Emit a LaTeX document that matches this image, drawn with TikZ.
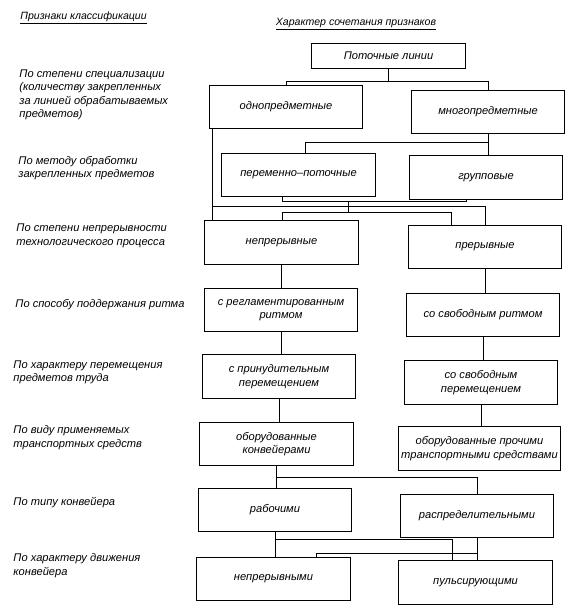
\documentclass[tikz,border=0pt]{standalone}
\usepackage{fontspec}
\setmainfont{Liberation Sans}
\usetikzlibrary{calc,positioning}

\begin{document}
\begin{tikzpicture}[
    x=0.03cm, y=-0.03cm,
    line width=0.8pt,
    block/.style={draw, rectangle, minimum width=4.6cm, minimum height=1.3cm, align=center, inner sep=2pt, font=\itshape\fontsize{9.5}{11.5}\selectfont},
    crit/.style={anchor=west, align=left, inner sep=0pt, font=\itshape\fontsize{9.5}{11.5}\selectfont},
    head/.style={inner sep=0pt, font=\itshape\fontsize{9}{11}\selectfont}
]
    \useasboundingbox (0,0) rectangle (574,612);

    % headers
    \node[head, anchor=west] (hLeft) at (20,18) {\underline{Признаки классификации}};
    \node[head] (hRight) at (356,24) {\underline{Характер сочетания признаков}};

    % classification criteria
    \node[crit] (c1) at (19,95) {По степени специализации\\(количеству закрепленных\\за линией обрабатываемых\\предметов)};
    \node[crit] (c2) at (18,168) {По методу обработки\\закрепленных предметов};
    \node[crit] (c3) at (16,236) {По степени непрерывности\\технологического процесса};
    \node[crit] (c4) at (15,305) {По способу поддержания ритма};
    \node[crit] (c5) at (13,372.5) {По характеру перемещения\\предметов труда};
    \node[crit] (c6) at (13,437.5) {По виду применяемых\\транспортных средств};
    \node[crit] (c7) at (13,503) {По типу конвейера};
    \node[crit] (c8) at (13,565.5) {По характеру движения\\конвейера};

    % line types
    \node[block, minimum height=0.75cm] (flow) at (388.5,55.5) {Поточные линии};
    \node[block] (single) at (286,107) {однопредметные};
    \node[block] (multi) at (488,112) {многопредметные};
    \node[block] (variable) at (298.5,175) {переменно--поточные};
    \node[block] (group) at (486,177.5) {групповые};
    \node[block] (cont) at (281.5,242.5) {непрерывные};
    \node[block] (discont) at (485,247) {прерывные};
    \node[block] (regular) at (281,310) {с регламентированным\\ритмом};
    \node[block] (freeR) at (483,315) {со свободным ритмом};
    \node[block] (forced) at (279,376.5) {с принудительным\\перемещением};
    \node[block] (freeM) at (481,382.5) {со свободным\\перемещением};
    \node[block] (convey) at (276.5,444) {оборудованные\\конвейерами};
    \node[block] (other) at (479.5,448.5) {оборудованные прочими\\транспортными средствами};
    \node[block] (work) at (275,510) {рабочими};
    \node[block] (distr) at (477,516) {распределительными};
    \node[block] (contM) at (273.5,579) {непрерывными};
    \node[block] (pulse) at (475.5,582.5) {пульсирующими};

    \coordinate (bus1) at (0,81);
    \draw (flow.south) -- (flow.south |- bus1);
    \draw (single.north) |- (multi.north |- bus1) -- (multi.north);

    \coordinate (bus2) at (0,142);
    \draw (multi.south) -- (multi.south |- group.north);
    \draw ([xshift=0.2cm]variable.north) |- (multi.south |- bus2);

    % single-item lines
    \coordinate (s1) at ([xshift=0.12cm]single.south west);
    \coordinate (bus3) at (0,206);
    \draw (s1) -- (s1 |- cont.north);
    \draw (s1 |- bus3) -| (discont.north);

    % variable and group lines
    \coordinate (v1) at ([xshift=-0.47cm]variable.south);
    \coordinate (g1) at ([xshift=-0.6cm]group.south);
    \coordinate (bus4) at (0,201);
    \coordinate (bus5) at (0,212);
    \coordinate (drop) at (348,0);
    \draw (v1) |- (g1 |- bus4) -- (g1);
    \draw (drop |- bus4) -- (drop |- bus5);
    \draw (v1 |- cont.north) |- ([xshift=-1cm]discont.north |- bus5) -- ([xshift=-1cm]discont.north);

    \draw (cont.south) -- (cont.south |- regular.north);
    \draw (discont.south) -- (discont.south |- freeR.north);
    \draw (regular.south) -- (regular.south |- forced.north);
    \draw (freeR.south) -- (freeR.south |- freeM.north);
    \draw (forced.south) -- (forced.south |- convey.north);
    \draw (freeM.south) -- (freeM.south |- other.north);

    \coordinate (bus6) at (0,477);
    \draw (convey.south) -- (convey.south |- work.north);
    \draw (convey.south |- bus6) -| (distr.north);

    \coordinate (bus7) at (0,539);
    \coordinate (bus8) at (0,553);
    \draw (work.south) -- (work.south |- contM.north);
    \draw (work.south |- bus7) -| ([xshift=-0.7cm]pulse.north);
    \draw (distr.south) -- (distr.south |- pulse.north);
    \draw (distr.south |- bus8) -| ([xshift=1.3cm]contM.north);

\end{tikzpicture}
\end{document}
